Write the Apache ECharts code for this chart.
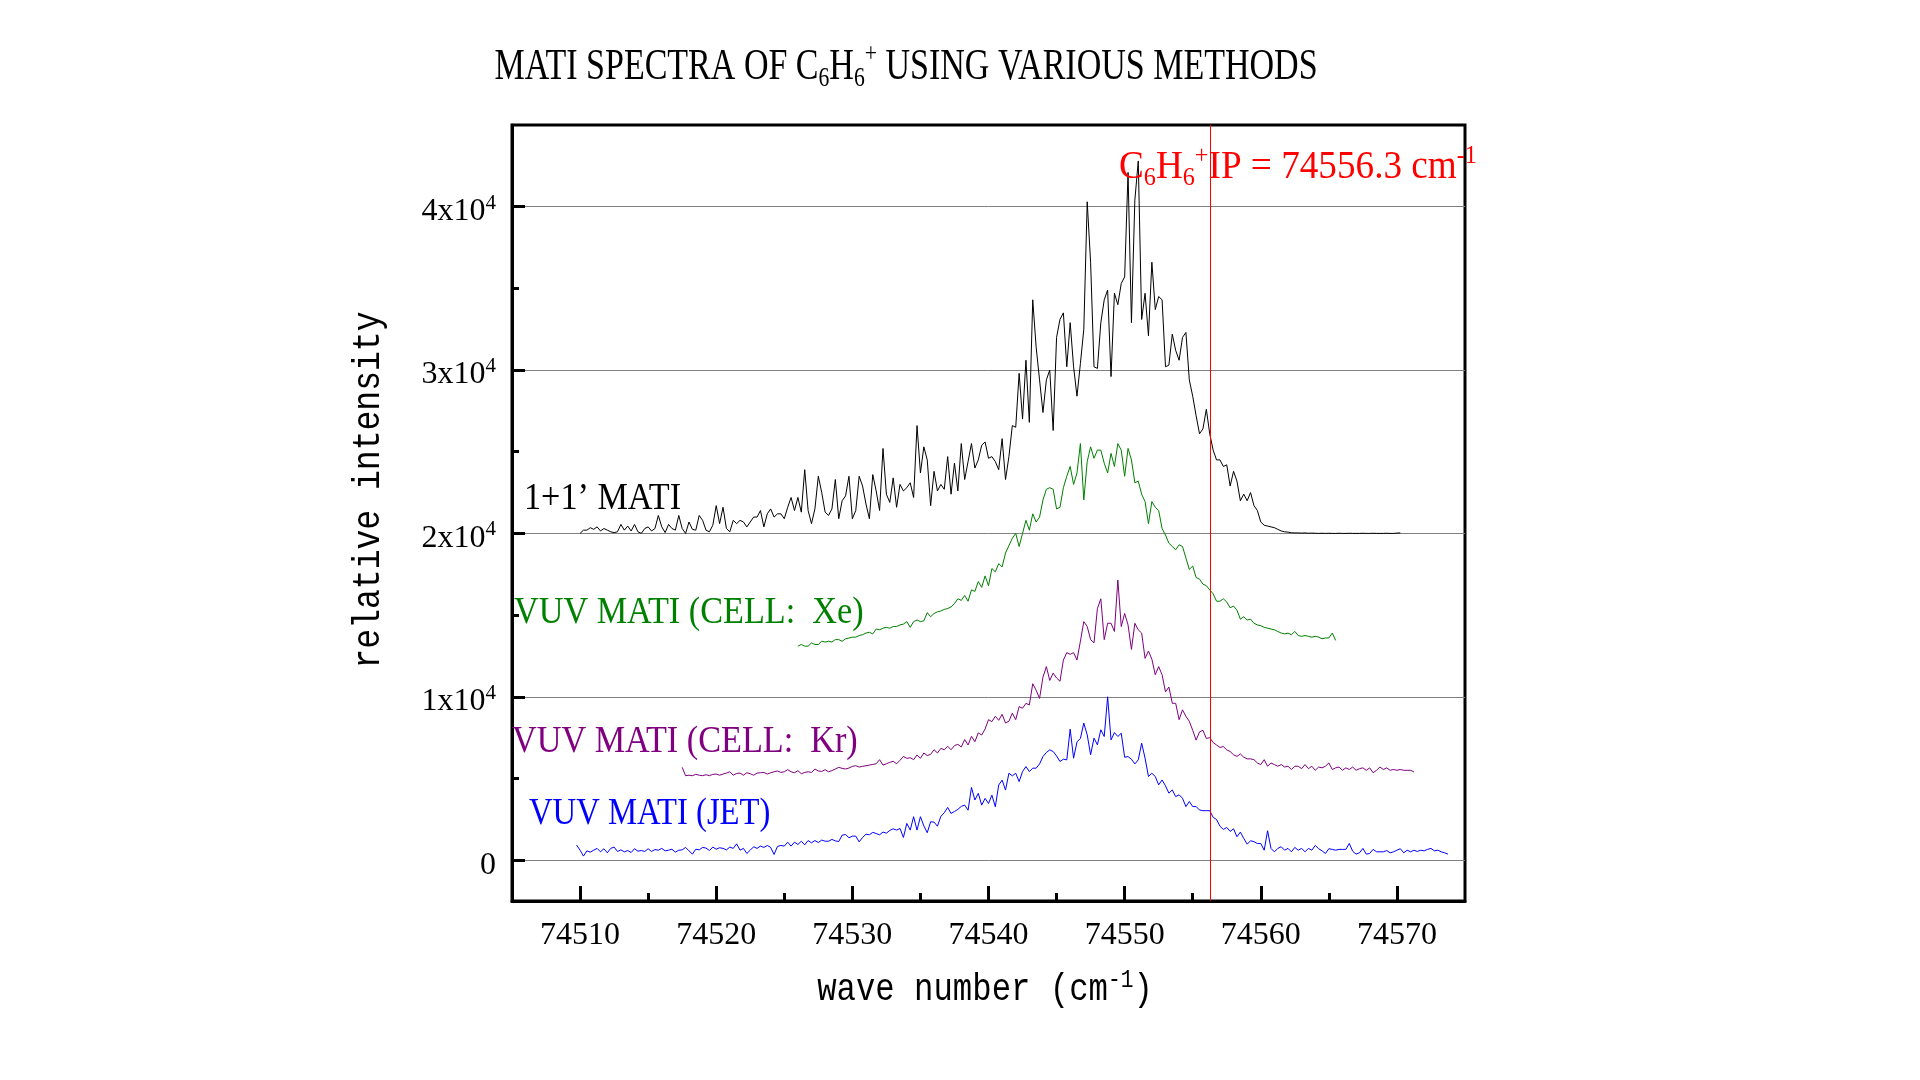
<!DOCTYPE html>
<html><head><meta charset="utf-8">
<script src="https://cdn.jsdelivr.net/npm/echarts@6/dist/echarts.min.js"></script>
<style>html,body{margin:0;padding:0;background:#fff}#c{width:1920px;height:1080px}</style>
</head><body><div id="c"></div>
<script>
// ---- axis ticks ----
const xTicks = [74510, 74520, 74530, 74540, 74550, 74560, 74570];
const xMinorTicks = [74515, 74525, 74535, 74545, 74555, 74565];
const yTicks = [0, 10000, 20000, 30000, 40000];
const yMinorTicks = [5000, 15000, 25000, 35000];
const ipLine = 74556.3;

// ---- spectra (wave number sampled every 0.25 cm-1 from each start) ----
const step = 0.25;
const blackStart = 74510.0;
const black = [
20000,20200,20200,20350,20250,20400,20150,20300,20200,20100,
20050,20100,20550,20200,20450,20150,20550,20100,20000,20300,
20400,20150,20300,21100,20400,20050,20550,20300,20200,21100,
20300,20000,20700,20250,20200,21100,20800,20200,20100,20500,
21700,20600,21600,20300,20100,20800,20600,20800,20700,20400,
20700,21000,21000,21400,20400,21200,21500,21000,21200,21200,
20900,21600,22200,21400,22200,21300,23900,21400,20600,21500,
23500,22500,21300,21100,21500,23300,20900,22000,22300,23500,
20900,21400,23500,22900,21800,20900,23600,22600,21400,25200,
22400,21900,23400,21600,23000,22600,22800,23100,22200,26600,
23700,25300,24500,21700,23800,22600,23000,22700,24700,22400,
24300,22600,25500,23300,24400,25500,24000,24500,25400,25600,
24600,24700,24400,23900,25800,23300,24700,26600,26500,29800,
27000,30600,26800,34300,31400,29400,27400,29400,30000,26300,
32000,33100,33500,30200,32900,30200,28400,30400,32500,40300,
36600,30200,30100,32900,34300,34900,29600,34700,34000,35300,
35700,42100,32900,40400,42800,33100,34700,32100,36600,33700,
34500,34300,30200,30300,32200,31200,30600,32000,32300,29400,
28400,27200,26100,26400,27600,26100,25100,24500,24500,24100,
24200,22900,23800,23200,22000,22400,22000,22500,21700,21400,
20700,20500,20450,20400,20350,20250,20150,20100,20080,
20040,20030,20030,20020,20030,20010,20020,20010,20000,20010,
20000,20010,20000,20000,20010,20000,20000,20010,20000,20000,
20000,20010,20000,20000,20010,20000,20000,20000,20010,20000,
20000,20020,20030
];
const greenStart = 74526.0;
const green = [
13100,13200,13100,13100,13300,13200,13200,13400,13350,13400,
13350,13500,13500,13400,13550,13600,13650,13650,13750,13800,
13900,13950,13850,14150,14100,14200,14250,14200,14300,14300,
14400,14450,14600,14250,14600,14700,14600,14650,15150,14900,
15100,15200,15250,15350,15400,15500,15700,16000,15900,16200,
15850,16550,16450,17050,16700,17400,16800,17850,17650,18150,
17950,18800,19250,19700,20000,19200,20000,20800,20200,21200,
20700,21000,22050,22700,22800,22700,21500,21600,22800,23500,
24100,23000,23700,25500,22050,24400,25300,24600,25100,25100,
24300,23700,24900,24100,25500,25100,23500,25200,24500,23100,
23200,22400,21950,20600,21950,21600,21400,20300,19900,19400,
19200,19000,19300,19200,18500,17800,18000,17300,17200,16900,
16800,16550,16300,15850,15850,16000,15800,15450,15550,15300,
14750,14900,14700,14750,14500,14400,14350,14250,14200,14150,
14100,14000,13900,13850,13900,13800,14000,13750,13700,13750,
13700,13650,13700,13650,13550,13600,13600,13900,13450
];
const purpleStart = 74517.5;
const purple = [
5680,5170,5200,5170,5250,5200,5170,5230,5170,5250,
5270,5200,5270,5330,5410,5200,5310,5330,5200,5350,
5290,5200,5330,5350,5370,5270,5350,5410,5460,5370,
5410,5540,5410,5350,5480,5290,5370,5410,5370,5580,
5460,5430,5540,5410,5480,5580,5680,5620,5580,5640,
5740,5780,5700,5740,5780,5820,5860,5900,6150,5820,
5900,5990,6050,5900,6110,6350,6230,6270,6150,6440,
6230,6560,6400,6480,6760,6560,6840,6760,6970,6760,
7010,7090,6930,7380,7050,7580,7250,7790,7660,8030,
8600,8480,8810,8560,8930,8400,8500,9000,8600,9400,
9300,9600,9500,10800,10400,9900,11200,11850,11000,11450,
11150,10950,12250,12700,12600,12700,12250,13400,14600,14300,
13500,13300,15400,16000,13500,14500,14500,14000,17150,14300,
15100,14400,12900,14500,14100,13900,12350,12800,12300,11350,
11850,11350,10300,10600,9600,9600,8600,9200,8800,8500,
7950,7350,7850,7950,7450,7500,7200,7050,6900,6950,
6750,6650,6450,6350,6500,6300,6200,6200,6150,5950,
5850,6150,5750,5950,5850,5750,5850,5700,5750,5550,
5750,5750,5600,5850,5600,5750,5500,5700,5650,5750,
5950,5550,5650,5700,5500,5650,5550,5700,5500,5600,
5650,5500,5650,5350,5500,5700,5550,5650,5500,5550,
5500,5550,5500,5500,5500,5400
];
const blueStart = 74509.75;
const blue = [
920,610,250,570,490,610,720,510,700,450,
720,800,530,630,510,590,470,700,550,590,
530,700,530,650,610,720,570,610,670,490,
610,630,780,570,370,670,630,780,740,590,
800,670,760,720,630,800,720,1000,610,720,
410,610,820,720,860,780,900,780,350,840,
900,860,1100,860,1100,960,1160,940,1200,1060,
1200,1080,1230,1160,1160,1270,1180,1140,1530,1570,
1370,1470,1470,1120,1390,1590,1550,1700,1630,1550,
1720,1650,1820,1920,1840,1940,1390,2250,1840,2660,
1840,2660,2100,1680,2350,2330,2080,2680,2900,3230,
2860,2980,3110,3290,3370,3060,4450,3680,4090,3370,
3780,3470,3980,3270,4600,4900,4290,5320,5160,5320,
4810,5420,5730,5420,5630,5630,5890,6340,6590,6750,
6650,6380,6040,6180,6140,8020,6240,7240,7450,8390,
7670,6450,7470,7060,7980,7570,10000,7360,7810,7570,
7770,6300,6340,6180,5890,6140,7160,6240,5120,5320,
5120,4610,4910,4550,4100,4300,3890,4000,3790,3280,
3590,3280,3280,3070,3030,3030,3030,2620,2490,2080,
1880,2000,1760,1920,1430,1720,1330,980,1190,1130,
1020,1020,610,1800,720,510,720,820,610,720,
510,780,610,720,510,720,610,900,700,570,
410,700,660,610,660,660,660,1020,550,370,
450,720,370,410,660,510,510,510,590,450,
510,610,700,450,610,510,610,530,610,570,
660,720,570,610,510,450,370
];

function pairs(start, vals) { return vals.map((v, i) => [start + i * step, v]); }

const SERIF = 'Liberation Serif';
const MONO = 'Liberation Mono';

function lineSeries(name, start, vals, color, extra) {
  return Object.assign({
    name: name, type: 'line', data: pairs(start, vals),
    showSymbol: false, symbol: 'none', sampling: false,
    lineStyle: { color: color, width: 1 }, itemStyle: { color: color },
    emphasis: { disabled: true }, silent: true, z: 3
  }, extra || {});
}

function label(text, x, y, color, sx) {
  return { type: 'text', x: x, y: y, scaleX: sx || 0.9, z: 100,
    style: { text: text, fill: color, font: '38px "' + SERIF + '"', align: 'left', verticalAlign: 'middle' } };
}

const chart = echarts.init(document.getElementById('c'), null, { renderer: 'canvas' });
const option = {
  animation: false,
  backgroundColor: '#ffffff',
  grid: { left: 512, top: 125, width: 953, height: 776, show: true, borderColor: '#000', borderWidth: 3,
          backgroundColor: 'transparent', containLabel: false, outerBoundsMode: 'none' },
  xAxis: [{
    type: 'value', min: 74505, max: 74575, position: 'bottom',
    axisLine: { show: true, onZero: false, lineStyle: { color: '#000', width: 3 } },
    axisTick: { show: true, inside: true, length: 15, customValues: xTicks, lineStyle: { color: '#000', width: 3 } },
    axisLabel: { show: true, customValues: xTicks, formatter: v => String(v), color: '#000',
                 fontFamily: SERIF, fontSize: 32, margin: 19 },
    splitLine: { show: false }
  }, {
    type: 'value', min: 74505, max: 74575, position: 'bottom',
    axisLine: { show: false, onZero: false },
    axisTick: { show: true, inside: true, length: 8, customValues: xMinorTicks, lineStyle: { color: '#000', width: 3 } },
    axisLabel: { show: false }, splitLine: { show: false }
  }],
  yAxis: [{
    type: 'value', min: -2500, max: 45000, position: 'left',
    axisLine: { show: true, onZero: false, lineStyle: { color: '#000', width: 3 } },
    axisTick: { show: true, inside: true, length: 13, customValues: yTicks, lineStyle: { color: '#000', width: 3 } },
    axisLabel: { show: true, customValues: yTicks, margin: 16, padding: [10, 0, 0, 0],
      formatter: v => v === 0 ? '{n|0}' : '{n|' + (v / 10000) + 'x10}{s|4}',
      rich: {
        n: { fontFamily: SERIF, fontSize: 32, color: '#000', lineHeight: 38 },
        s: { fontFamily: SERIF, fontSize: 21, color: '#000', lineHeight: 22, verticalAlign: 'top' }
      } },
    splitLine: { show: true, lineStyle: { color: '#808080', width: 1 } }
  }, {
    type: 'value', min: -2500, max: 45000, position: 'left',
    axisLine: { show: false, onZero: false },
    axisTick: { show: true, inside: true, length: 7, customValues: yMinorTicks, lineStyle: { color: '#000', width: 3 } },
    axisLabel: { show: false }, splitLine: { show: false }
  }],
  series: [
    lineSeries('1+1’ MATI', blackStart, black, '#000000', {
      markLine: { silent: true, symbol: 'none', label: { show: false },
        lineStyle: { color: '#ff0000', width: 1, type: 'solid' }, data: [{ xAxis: ipLine }] }
    }),
    lineSeries('VUV MATI (CELL: Xe)', greenStart, green, '#008000'),
    lineSeries('VUV MATI (CELL: Kr)', purpleStart, purple, '#800080'),
    lineSeries('VUV MATI (JET)', blueStart, blue, '#0000ff')
  ],
  graphic: [
    { type: 'text', x: 906, y: 67, scaleX: 0.773, z: 100,
      style: { text: '{a|MATI SPECTRA OF C}{b|6}{a|H}{b|6}{c|+}{a| USING VARIOUS METHODS}',
        align: 'center', verticalAlign: 'middle', fill: '#000', font: '44px "' + SERIF + '"',
        rich: {
          a: { fontFamily: SERIF, fontSize: 44, lineHeight: 52, fill: '#000' },
          b: { fontFamily: SERIF, fontSize: 28, lineHeight: 26, verticalAlign: 'bottom', fill: '#000' },
          c: { fontFamily: SERIF, fontSize: 28, lineHeight: 26, verticalAlign: 'top', fill: '#000' }
        } } },
    { type: 'text', x: 1119, y: 167, scaleX: 0.93, z: 100,
      style: { text: '{a|C}{b|6}{a|H}{b|6}{c|+}{a|IP = 74556.3 cm}{c|-1}',
        align: 'left', verticalAlign: 'middle', fill: '#ff0000', font: '40px "' + SERIF + '"',
        rich: {
          a: { fontFamily: SERIF, fontSize: 40, lineHeight: 48, fill: '#ff0000' },
          b: { fontFamily: SERIF, fontSize: 26, lineHeight: 25, verticalAlign: 'bottom', fill: '#ff0000' },
          c: { fontFamily: SERIF, fontSize: 26, lineHeight: 25, verticalAlign: 'top', fill: '#ff0000' }
        } } },
    label('1+1’ MATI', 524, 499, '#000000'),
    label('VUV MATI (CELL:  Xe)', 514, 613, '#008000'),
    label('VUV MATI (CELL:  Kr)', 512, 742, '#800080'),
    label('VUV MATI (JET)', 529, 814, '#0000ff', 0.86),
    { type: 'text', x: 369, y: 490, rotation: Math.PI / 2, scaleX: 0.87, z: 100,
      style: { text: 'relative intensity', fill: '#000', font: '38px "' + MONO + '"',
        align: 'center', verticalAlign: 'middle' } },
    { type: 'text', x: 985, y: 990, scaleX: 0.85, z: 100,
      style: { text: '{a|wave number (cm}{s|-1}{a|)}', align: 'center', verticalAlign: 'middle',
        fill: '#000', font: '38px "' + MONO + '"',
        rich: {
          a: { fontFamily: MONO, fontSize: 38, lineHeight: 44, fill: '#000' },
          s: { fontFamily: MONO, fontSize: 25, lineHeight: 24, verticalAlign: 'top', fill: '#000' }
        } } }
  ]
};
chart.setOption(option);
</script>
</body></html>
